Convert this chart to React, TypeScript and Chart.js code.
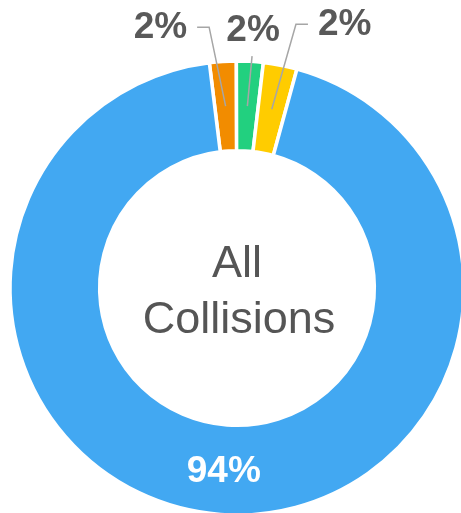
import React, { useEffect, useRef } from "react";
import { Chart, registerables } from "chart.js";

Chart.register(...registerables);

const categories = ["Category A", "Category B", "Category C", "Other"];
const values = [1.9, 1.9, 2.4, 93.8];
const colors = ["#F28C00", "#22D07F", "#FFCC00", "#42A8F2"];
const centerLines = ["All", "Collisions"];

// leader-line layout per slice (offsets from slice anchor), null = inside label
const labelLayout: (null | { elbow: [number, number]; end: [number, number]; text: [number, number]; align: CanvasTextAlign })[] = [
  { elbow: [-16.5, -79], end: [-28.5, -79], text: [-10, 0.5], align: "right" },
  { elbow: [4.7, -50], end: [4.7, -50], text: [1, -25.5], align: "center" },
  { elbow: [24.2, -85], end: [36.2, -85], text: [10, 1], align: "left" },
  null,
];

const FONT = "'Liberation Sans', Arial, Helvetica, sans-serif";

const labelPlugin = {
  id: "customLabels",
  afterDatasetsDraw(chart: any) {
    const ctx = chart.ctx as CanvasRenderingContext2D;
    const meta = chart.getDatasetMeta(0);
    const data = chart.data.datasets[0].data as number[];
    const total = data.reduce((a, b) => a + b, 0);
    ctx.save();
    meta.data.forEach((arc: any, i: number) => {
      const pos = arc.tooltipPosition();
      const pct = Math.round((data[i] / total) * 100) + "%";
      const lay = labelLayout[i];
      ctx.font = `bold 37px ${FONT}`;
      ctx.textBaseline = "middle";
      if (!lay) {
        ctx.fillStyle = "#FFFFFF";
        ctx.textAlign = "center";
        ctx.fillText(pct, pos.x, pos.y + 2);
        return;
      }
      ctx.strokeStyle = "#A6A6A6";
      ctx.lineWidth = 1.5;
      ctx.beginPath();
      ctx.moveTo(pos.x, pos.y);
      ctx.lineTo(pos.x + lay.elbow[0], pos.y + lay.elbow[1]);
      ctx.lineTo(pos.x + lay.end[0], pos.y + lay.end[1]);
      ctx.stroke();
      ctx.fillStyle = "#595959";
      ctx.textAlign = lay.align;
      ctx.fillText(pct, pos.x + lay.end[0] + lay.text[0], pos.y + lay.end[1] + lay.text[1]);
    });
    // center text
    const arc0 = meta.data[0];
    const cx = arc0.x;
    const cy = arc0.y;
    ctx.font = `45px ${FONT}`;
    ctx.fillStyle = "#555555";
    ctx.textAlign = "center";
    ctx.textBaseline = "alphabetic";
    ctx.fillText(centerLines[0], cx, cy - 11);
    ctx.fillText(centerLines[1], cx + 2, cy + 45);
    ctx.restore();
  },
};

export default function App() {
  const ref = useRef<HTMLCanvasElement>(null);
  useEffect(() => {
    document.body.style.margin = "0";
    const chart = new Chart(ref.current!, {
      type: "doughnut",
      data: {
        labels: categories,
        datasets: [
          {
            data: values,
            backgroundColor: colors,
            borderColor: "#FFFFFF",
            borderWidth: 3.5,
            radius: 227,
          } as any,
        ],
      },
      options: {
        responsive: false,
        animation: false,
        rotation: -7,
        cutout: "60.5%",
        layout: { padding: { left: 12, top: 63, right: 13, bottom: 17 } },
        plugins: { legend: { display: false }, tooltip: { enabled: false } },
      },
      plugins: [labelPlugin],
    });
    return () => chart.destroy();
  }, []);
  return (
    <div style={{ position: "fixed", left: 0, top: 0, width: 461, height: 513, overflow: "hidden", background: "#fff" }}>
      <canvas ref={ref} width={475} height={530} style={{ display: "block" }} />
    </div>
  );
}
